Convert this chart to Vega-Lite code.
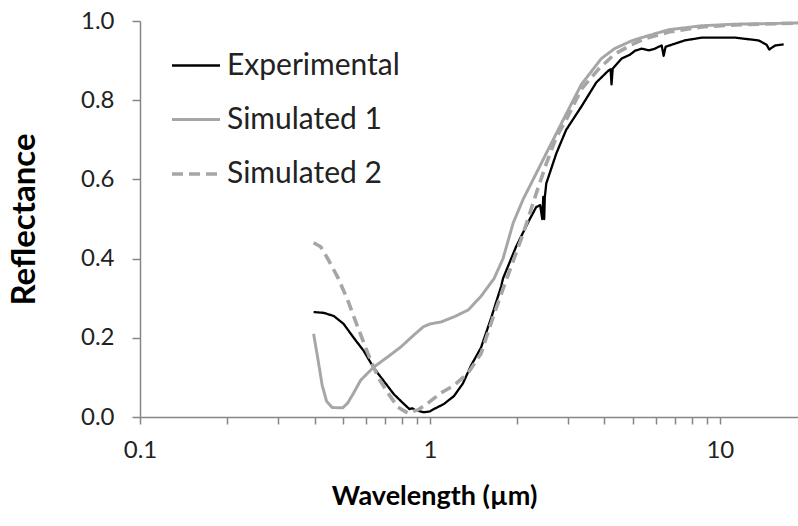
{
  "$schema": "https://vega.github.io/schema/vega-lite/v6.json",
  "width": 658,
  "height": 396,
  "autosize": {"type": "none"},
  "padding": {"left": 140, "top": 21, "right": 0, "bottom": 109},
  "background": "white",
  "config": {"view": {"stroke": null}, "font": "Lato"},
  "data": {
    "values": [
      {"s": "Experimental", "w": 0.397, "r": 0.265},
      {"s": "Experimental", "w": 0.43, "r": 0.263},
      {"s": "Experimental", "w": 0.466, "r": 0.255},
      {"s": "Experimental", "w": 0.504, "r": 0.235},
      {"s": "Experimental", "w": 0.546, "r": 0.2},
      {"s": "Experimental", "w": 0.591, "r": 0.167},
      {"s": "Experimental", "w": 0.64, "r": 0.124},
      {"s": "Experimental", "w": 0.693, "r": 0.091},
      {"s": "Experimental", "w": 0.75, "r": 0.058},
      {"s": "Experimental", "w": 0.813, "r": 0.033},
      {"s": "Experimental", "w": 0.85, "r": 0.02},
      {"s": "Experimental", "w": 0.87, "r": 0.022},
      {"s": "Experimental", "w": 0.89, "r": 0.017},
      {"s": "Experimental", "w": 0.953, "r": 0.012},
      {"s": "Experimental", "w": 1.0, "r": 0.014},
      {"s": "Experimental", "w": 1.032, "r": 0.02},
      {"s": "Experimental", "w": 1.118, "r": 0.033},
      {"s": "Experimental", "w": 1.211, "r": 0.053},
      {"s": "Experimental", "w": 1.3, "r": 0.085},
      {"s": "Experimental", "w": 1.386, "r": 0.13},
      {"s": "Experimental", "w": 1.5, "r": 0.175},
      {"s": "Experimental", "w": 1.626, "r": 0.25},
      {"s": "Experimental", "w": 1.761, "r": 0.33},
      {"s": "Experimental", "w": 1.787, "r": 0.35},
      {"s": "Experimental", "w": 1.982, "r": 0.43},
      {"s": "Experimental", "w": 2.2, "r": 0.497},
      {"s": "Experimental", "w": 2.325, "r": 0.53},
      {"s": "Experimental", "w": 2.4, "r": 0.535},
      {"s": "Experimental", "w": 2.44, "r": 0.5},
      {"s": "Experimental", "w": 2.46, "r": 0.556},
      {"s": "Experimental", "w": 2.478, "r": 0.5},
      {"s": "Experimental", "w": 2.49, "r": 0.555},
      {"s": "Experimental", "w": 2.52, "r": 0.59},
      {"s": "Experimental", "w": 2.73, "r": 0.666},
      {"s": "Experimental", "w": 2.95, "r": 0.725},
      {"s": "Experimental", "w": 3.33, "r": 0.784},
      {"s": "Experimental", "w": 3.75, "r": 0.845},
      {"s": "Experimental", "w": 4.13, "r": 0.875},
      {"s": "Experimental", "w": 4.2, "r": 0.878},
      {"s": "Experimental", "w": 4.23, "r": 0.84},
      {"s": "Experimental", "w": 4.27, "r": 0.88},
      {"s": "Experimental", "w": 4.58, "r": 0.905},
      {"s": "Experimental", "w": 4.9, "r": 0.915},
      {"s": "Experimental", "w": 5.1, "r": 0.925},
      {"s": "Experimental", "w": 5.37, "r": 0.93},
      {"s": "Experimental", "w": 5.7, "r": 0.926},
      {"s": "Experimental", "w": 5.96, "r": 0.93},
      {"s": "Experimental", "w": 6.15, "r": 0.935},
      {"s": "Experimental", "w": 6.3, "r": 0.938},
      {"s": "Experimental", "w": 6.4, "r": 0.912},
      {"s": "Experimental", "w": 6.5, "r": 0.935},
      {"s": "Experimental", "w": 7.57, "r": 0.951},
      {"s": "Experimental", "w": 8.66, "r": 0.958},
      {"s": "Experimental", "w": 11.27, "r": 0.958},
      {"s": "Experimental", "w": 13.6, "r": 0.951},
      {"s": "Experimental", "w": 14.5, "r": 0.94},
      {"s": "Experimental", "w": 14.8, "r": 0.928},
      {"s": "Experimental", "w": 15.5, "r": 0.938},
      {"s": "Experimental", "w": 16.6, "r": 0.941},
      {"s": "Simulated 1", "w": 0.397, "r": 0.21},
      {"s": "Simulated 1", "w": 0.41, "r": 0.15},
      {"s": "Simulated 1", "w": 0.425, "r": 0.08},
      {"s": "Simulated 1", "w": 0.44, "r": 0.04},
      {"s": "Simulated 1", "w": 0.46, "r": 0.024},
      {"s": "Simulated 1", "w": 0.5, "r": 0.023},
      {"s": "Simulated 1", "w": 0.52, "r": 0.035},
      {"s": "Simulated 1", "w": 0.545, "r": 0.06},
      {"s": "Simulated 1", "w": 0.577, "r": 0.093},
      {"s": "Simulated 1", "w": 0.64, "r": 0.126},
      {"s": "Simulated 1", "w": 0.716, "r": 0.152},
      {"s": "Simulated 1", "w": 0.794, "r": 0.177},
      {"s": "Simulated 1", "w": 0.88, "r": 0.207},
      {"s": "Simulated 1", "w": 0.95, "r": 0.228},
      {"s": "Simulated 1", "w": 1.0, "r": 0.235},
      {"s": "Simulated 1", "w": 1.092, "r": 0.24},
      {"s": "Simulated 1", "w": 1.211, "r": 0.253},
      {"s": "Simulated 1", "w": 1.354, "r": 0.27},
      {"s": "Simulated 1", "w": 1.501, "r": 0.305},
      {"s": "Simulated 1", "w": 1.665, "r": 0.35},
      {"s": "Simulated 1", "w": 1.787, "r": 0.4},
      {"s": "Simulated 1", "w": 1.937, "r": 0.49},
      {"s": "Simulated 1", "w": 2.097, "r": 0.55},
      {"s": "Simulated 1", "w": 2.2, "r": 0.58},
      {"s": "Simulated 1", "w": 2.52, "r": 0.666},
      {"s": "Simulated 1", "w": 2.88, "r": 0.75},
      {"s": "Simulated 1", "w": 3.33, "r": 0.84},
      {"s": "Simulated 1", "w": 3.9, "r": 0.905},
      {"s": "Simulated 1", "w": 4.33, "r": 0.93},
      {"s": "Simulated 1", "w": 4.96, "r": 0.95},
      {"s": "Simulated 1", "w": 5.37, "r": 0.958},
      {"s": "Simulated 1", "w": 6.66, "r": 0.978},
      {"s": "Simulated 1", "w": 8.66, "r": 0.988},
      {"s": "Simulated 1", "w": 11.27, "r": 0.992},
      {"s": "Simulated 1", "w": 19, "r": 0.995},
      {"s": "Simulated 2", "w": 0.397, "r": 0.44},
      {"s": "Simulated 2", "w": 0.42, "r": 0.43},
      {"s": "Simulated 2", "w": 0.444, "r": 0.4},
      {"s": "Simulated 2", "w": 0.48, "r": 0.354},
      {"s": "Simulated 2", "w": 0.52, "r": 0.296},
      {"s": "Simulated 2", "w": 0.563, "r": 0.228},
      {"s": "Simulated 2", "w": 0.61, "r": 0.162},
      {"s": "Simulated 2", "w": 0.661, "r": 0.101},
      {"s": "Simulated 2", "w": 0.716, "r": 0.061},
      {"s": "Simulated 2", "w": 0.775, "r": 0.025},
      {"s": "Simulated 2", "w": 0.839, "r": 0.01},
      {"s": "Simulated 2", "w": 0.909, "r": 0.018},
      {"s": "Simulated 2", "w": 0.984, "r": 0.035},
      {"s": "Simulated 2", "w": 1.092, "r": 0.061},
      {"s": "Simulated 2", "w": 1.211, "r": 0.08},
      {"s": "Simulated 2", "w": 1.354, "r": 0.111},
      {"s": "Simulated 2", "w": 1.5, "r": 0.16},
      {"s": "Simulated 2", "w": 1.665, "r": 0.26},
      {"s": "Simulated 2", "w": 1.8, "r": 0.33},
      {"s": "Simulated 2", "w": 1.906, "r": 0.38},
      {"s": "Simulated 2", "w": 2.097, "r": 0.463},
      {"s": "Simulated 2", "w": 2.325, "r": 0.564},
      {"s": "Simulated 2", "w": 2.52, "r": 0.64},
      {"s": "Simulated 2", "w": 2.73, "r": 0.707},
      {"s": "Simulated 2", "w": 2.95, "r": 0.75},
      {"s": "Simulated 2", "w": 3.33, "r": 0.828},
      {"s": "Simulated 2", "w": 3.81, "r": 0.878},
      {"s": "Simulated 2", "w": 4.33, "r": 0.916},
      {"s": "Simulated 2", "w": 4.96, "r": 0.94},
      {"s": "Simulated 2", "w": 5.5, "r": 0.955},
      {"s": "Simulated 2", "w": 6.66, "r": 0.972},
      {"s": "Simulated 2", "w": 8.66, "r": 0.985},
      {"s": "Simulated 2", "w": 11.27, "r": 0.99},
      {"s": "Simulated 2", "w": 19, "r": 0.995}
    ]
  },
  "mark": {"type": "line", "clip": true, "strokeCap": "butt", "strokeJoin": "round"},
  "encoding": {
    "x": {
      "field": "w",
      "type": "quantitative",
      "scale": {"type": "log", "domain": [0.1, 18.6]},
      "axis": {
        "title": "Wavelength (µm)",
        "values": [0.1, 0.2, 0.3, 0.4, 0.5, 0.6, 0.7, 0.8, 0.9, 1, 2, 3, 4, 5, 6, 7, 8, 9, 10],
        "labelExpr": "datum.value == 0.1 ? '0.1' : datum.value == 1 ? '1' : datum.value == 10 ? '10' : ''",
        "grid": false,
        "domainColor": "#868686",
        "domainWidth": 1.5,
        "tickColor": "#868686",
        "tickWidth": 1.5,
        "tickSize": 7,
        "labelFontSize": 24,
        "labelColor": "#222222",
        "labelPadding": 14,
        "labelFlush": false,
        "labelOverlap": false,
        "titleFontSize": 27,
        "titleFontWeight": "bold",
        "titleColor": "#000000",
        "titleX": 294,
        "titleY": 66,
        "titleAlign": "center",
        "titleBaseline": "top"
      }
    },
    "y": {
      "field": "r",
      "type": "quantitative",
      "scale": {"domain": [0, 1]},
      "axis": {
        "title": "Reflectance",
        "values": [0, 0.2, 0.4, 0.6, 0.8, 1.0],
        "format": ".1f",
        "grid": false,
        "domainColor": "#868686",
        "domainWidth": 1.5,
        "tickColor": "#868686",
        "tickWidth": 1.5,
        "tickSize": 8,
        "labelFontSize": 24,
        "labelColor": "#222222",
        "labelPadding": 18,
        "titleFontSize": 33,
        "titleFontWeight": "bold",
        "titleColor": "#000000",
        "titlePadding": 39
      }
    },
    "color": {
      "field": "s",
      "type": "nominal",
      "scale": {"domain": ["Experimental", "Simulated 1", "Simulated 2"], "range": ["#000000", "#a6a6a6", "#a6a6a6"]},
      "legend": {
        "title": null,
        "orient": "none",
        "legendX": 30,
        "legendY": 19,
        "symbolType": "stroke",
        "symbolSize": 2300,
        "labelFontSize": 30,
        "labelLimit": 400,
        "labelColor": "#222222",
        "labelOffset": 5,
        "rowPadding": 13
      }
    },
    "strokeDash": {
      "field": "s",
      "type": "nominal",
      "scale": {"domain": ["Experimental", "Simulated 1", "Simulated 2"], "range": [[1, 0], [1, 0], [11, 6]]}
    },
    "strokeWidth": {
      "field": "s",
      "type": "nominal",
      "scale": {"domain": ["Experimental", "Simulated 1", "Simulated 2"], "range": [2.3, 3.6, 3.6]}
    }
  }
}
